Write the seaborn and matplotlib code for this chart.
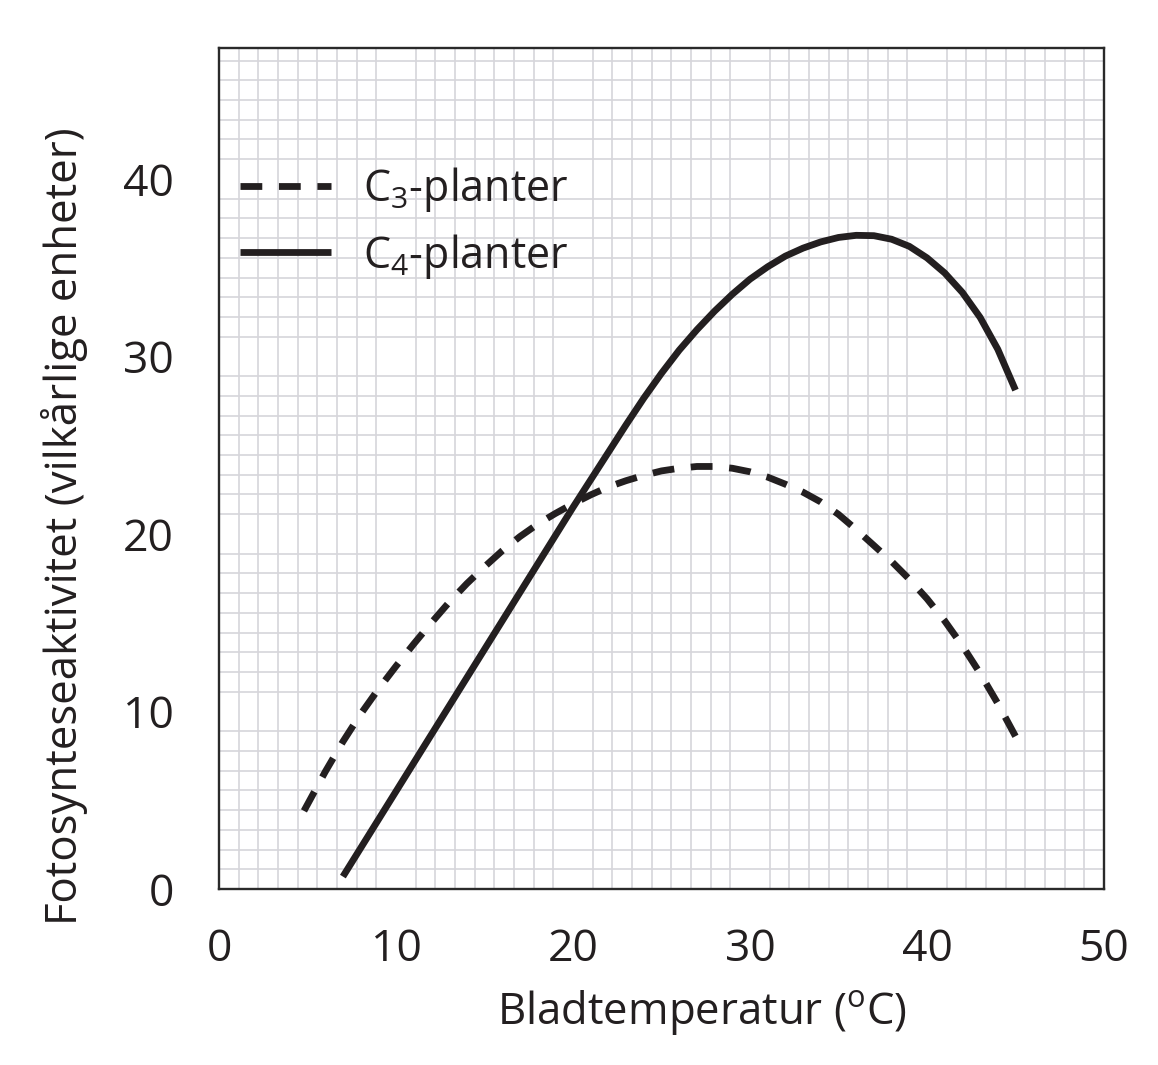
import matplotlib
matplotlib.use("Agg")
import matplotlib.pyplot as plt
import seaborn as sns
import numpy as np

# ---- data ----
temp_c3 = [4.8, 6, 7, 8, 9, 10, 11, 12, 13, 14, 15, 16, 17, 18, 19, 20, 21, 22, 23, 24,
           25, 26, 27, 28, 29, 30, 31, 32, 33, 34, 35, 36, 37, 38, 39, 40, 41, 42, 43, 44, 45]
activity_c3 = [4.4, 6.6, 8.3, 9.85, 11.25, 12.55, 13.8, 15.0, 16.15, 17.2, 18.15, 19.05,
               19.85, 20.55, 21.15, 21.7, 22.2, 22.65, 23.0, 23.3, 23.55, 23.7, 23.8, 23.8,
               23.7, 23.5, 23.2, 22.8, 22.35, 21.8, 21.1, 20.25, 19.35, 18.45, 17.45, 16.35,
               15.1, 13.7, 12.15, 10.45, 8.6]
temp_c4 = [7, 8, 10, 12, 14, 16, 18, 20, 22, 23, 24, 25, 26, 27, 28, 29, 30, 31, 32, 33,
           34, 35, 36, 37, 38, 39, 40, 41, 42, 43, 44, 45]
activity_c4 = [0.7, 2.3, 5.5, 8.7, 11.9, 15.1, 18.3, 21.5, 24.6, 26.15, 27.65, 29.05, 30.35,
               31.5, 32.55, 33.5, 34.35, 35.05, 35.65, 36.1, 36.45, 36.7, 36.82, 36.8, 36.6,
               36.2, 35.55, 34.7, 33.6, 32.2, 30.4, 28.1]
label_c3 = r"C$_3$-planter"
label_c4 = r"C$_4$-planter"
xlabel = r"Bladtemperatur ($^{\mathrm{o}}$C)"
ylabel = "Fotosynteseaktivitet (vilkårlige enheter)"
xticks = [0, 10, 20, 30, 40, 50]
yticks = [0, 10, 20, 30, 40]

INK = "#231f20"
sns.set_style("white")
plt.rcParams["font.family"] = ["Open Sans", "DejaVu Sans"]
plt.rcParams["mathtext.fontset"] = "custom"
plt.rcParams["mathtext.rm"] = "Open Sans"
plt.rcParams["mathtext.it"] = "Open Sans:italic"
plt.rcParams["mathtext.bf"] = "Open Sans:bold"
plt.rcParams["text.color"] = INK
plt.rcParams["lines.scale_dashes"] = True

fig = plt.figure(figsize=(11.58, 10.65), dpi=100)
ax = fig.add_axes([219/1158, 1-889/1065, 885/1158, (889-47.5)/1065])

LW = 4.9
DASH = (0, (3.2, 2.45))
sns.lineplot(x=temp_c3, y=activity_c3, ax=ax, color=INK, linewidth=LW,
             label=label_c3, sort=False)
sns.lineplot(x=temp_c4, y=activity_c4, ax=ax, color=INK, linewidth=LW,
             label=label_c4, sort=False)
ax.lines[0].set_linestyle(DASH)
for ln in ax.lines:
    ln.set_linewidth(LW)
    ln.set_solid_capstyle("butt")
    ln.set_dash_capstyle("butt")
    ln.set_solid_joinstyle("round")

ax.set_xlim(0, 50)
ax.set_ylim(0, 47.4)
ax.set_xticks(xticks)
ax.set_yticks(yticks)
ax.set_xticklabels([str(v) for v in xticks])
ax.set_yticklabels([str(v) for v in yticks])
step = 10/9
ax.set_xticks(np.arange(0, 50 + 1e-6, step), minor=True)
ax.set_yticks(np.arange(0, 47.4, step), minor=True)
ax.grid(which="minor", color="#d6d5da", lw=1.2)
ax.grid(which="major", visible=False)
ax.set_axisbelow(True)
ax.tick_params(which="minor", length=0)
ax.tick_params(which="major", direction="out", length=19.5, width=1.6, color=INK,
               labelsize=32, labelcolor=INK)
ax.tick_params(axis="y", pad=13)
ax.tick_params(axis="x", pad=8)
for s in ax.spines.values():
    s.set_color("#2a2a2a")
    s.set_linewidth(1.7)
    s.set_visible(True)

ax.set_xlabel(xlabel, fontsize=31.5, color=INK)
ax.set_ylabel(ylabel, fontsize=31.5, color=INK)
ax.xaxis.set_label_coords(0.546, -0.118)
ax.yaxis.set_label_coords(-0.148, 0.431)

leg = ax.legend(loc="upper left", bbox_to_anchor=(0.024, 0.86), frameon=False,
                fontsize=31, handlelength=2.1, handletextpad=0.75, labelspacing=0.4,
                borderpad=0, borderaxespad=0)
for t in leg.get_texts():
    t.set_color(INK)
for h in leg.legend_handles:
    h.set_linewidth(LW)
    h.set_dash_capstyle("butt")
    h.set_solid_capstyle("butt")

fig.savefig("out.png", dpi=100, facecolor="white")
